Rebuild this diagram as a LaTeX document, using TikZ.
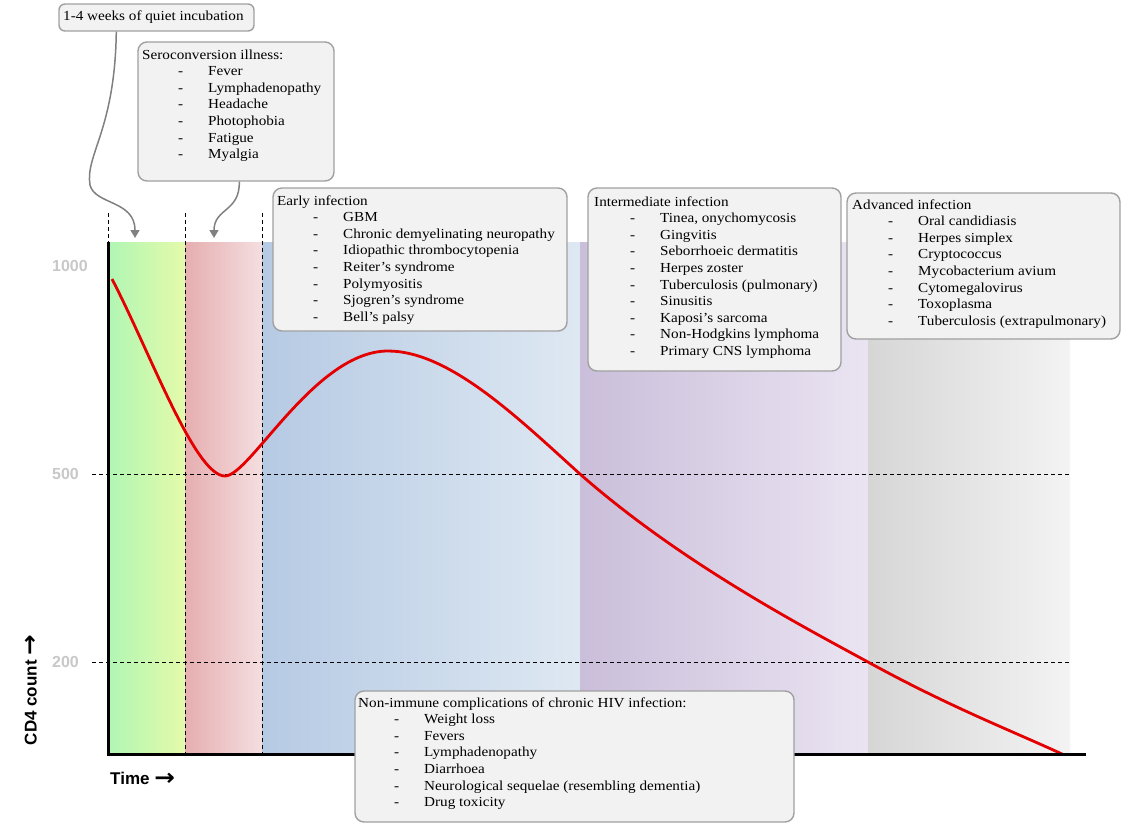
\documentclass[tikz,border=0pt]{standalone}
\usepackage{fontspec}
\setmainfont{Liberation Serif}[FakeStretch=1.1]
\newfontfamily\axisfont{Liberation Sans}
\newfontfamily\arrowfont{DejaVu Sans}
\usetikzlibrary{arrows.meta,fit,calc}
\definecolor{boxfill}{RGB}{242,242,242}
\definecolor{boxline}{RGB}{160,160,160}
\definecolor{arrgrey}{RGB}{128,128,128}
\definecolor{lblgrey}{RGB}{200,200,200}
\definecolor{gA}{RGB}{176,246,180}
\definecolor{gB}{RGB}{228,250,170}
\definecolor{pA}{RGB}{230,174,176}
\definecolor{pB}{RGB}{244,222,224}
\definecolor{bA}{RGB}{182,202,228}
\definecolor{bB}{RGB}{222,232,242}
\definecolor{vA}{RGB}{202,190,218}
\definecolor{vB}{RGB}{234,228,242}
\definecolor{kA}{RGB}{214,214,214}
\definecolor{kB}{RGB}{243,243,243}
\definecolor{hivred}{RGB}{228,0,0}
\newcommand\itm[1]{\hbox{\makebox[66pt][l]{\hspace*{36pt}-}#1}}
\newcommand\lst[2]{\vtop{\baselineskip=16.6pt\lineskiplimit=-20pt\hbox{#1}#2}}
\newcommand\rarr{\raisebox{-0.5pt}{\scalebox{1.45}[1.35]{\arrowfont\bfseries →}}}
\begin{document}
\begin{tikzpicture}[x=1pt,y=-1pt,
  box/.style={draw=boxline,fill=boxfill,line width=1.4pt,rounded corners=9pt,inner sep=0pt},
  txt/.style={anchor=base west,inner sep=0pt,font=\fontsize{13.8}{16.6}\selectfont},
  arr/.style={draw=arrgrey,line width=1.5pt,-{Triangle[width=9pt,length=8pt]}},
  guide/.style={black,line width=0.7pt,dash pattern=on 4pt off 3pt},
  hiv/.style={draw=hivred,line width=2.8pt},
  axisline/.style={black,line width=3pt},
  ylbl/.style={anchor=west,inner sep=0pt,text=lblgrey,font=\axisfont\bfseries\fontsize{16}{18}\selectfont},
  axlbl/.style={inner sep=0pt,font=\axisfont\bfseries\fontsize{17}{19}\selectfont}]
\useasboundingbox (0,0) rectangle (1125,823);
% bands
\shade[left color=gA,right color=gB] (108,242) rectangle (185,754);
\shade[left color=pA,right color=pB] (185,242) rectangle (262,754);
\shade[left color=bA,right color=bB] (262,242) rectangle (580,754);
\shade[left color=vA,right color=vB] (580,242) rectangle (868,754);
\shade[left color=kA,right color=kB] (868,242) rectangle (1070,754);
% guides
\draw[guide] (108,213) -- (108,242);
\draw[guide] (185,213) -- (185,754);
\draw[guide] (262,213) -- (262,754);
\draw[guide] (92,474) -- (1070,474);
\draw[guide] (92,662) -- (1070,662);
% labels
\node[ylbl] (l1000) at (52,266) {1000};
\node[ylbl] (l500) at (52,474) {500};
\node[ylbl] (l200) at (52,662) {200};
\node[axlbl,rotate=90] (cd4) at (31,690) {CD4 count \rarr};
\node[axlbl,anchor=west] (time) at (110,779) {Time \rarr};
% curve
\draw[hiv] (112,279) .. controls (150,352) and (195,476) .. (225,476)
  .. controls (250,476) and (315,351) .. (388,351)
  .. controls (450,351) and (520,420) .. (580,474)
  .. controls (680,562) and (800,625) .. (868,662)
  .. controls (950,707) and (1010,730) .. (1062,754);
% axes
\draw[axisline] (108,242) -- (108,755.5);
\draw[axisline] (106.5,754) -- (1086,754);
% boxes
\node[box,rounded corners=6pt,fit={(59,4) (254,31)}] (b1) {};
\node[box,fit={(138,42) (334,181)}] (b2) {};
\node[box,fit={(273,188) (567,331)}] (b3) {};
\node[box,fit={(588,188) (841,371)}] (b4) {};
\node[box,fit={(847,193) (1120,339)}] (b5) {};
\node[box,fit={(355,691) (794,822)}] (b6) {};
% texts
\node[txt] (t1) at (63,20) {1-4 weeks of quiet incubation};
\node[txt] (t2) at (142,59) {\lst{Seroconversion illness:}{\itm{Fever}\itm{Lymphadenopathy}\itm{Headache}\itm{Photophobia}\itm{Fatigue}\itm{Myalgia}}};
\node[txt] (t3) at (277,205) {\lst{Early infection}{\itm{GBM}\itm{Chronic demyelinating neuropathy}\itm{Idiopathic thrombocytopenia}\itm{Reiter’s syndrome}\itm{Polymyositis}\itm{Sjogren’s syndrome}\itm{Bell’s palsy}}};
\node[txt] (t4) at (594,206) {\lst{Intermediate infection}{\itm{Tinea, onychomycosis}\itm{Gingvitis}\itm{Seborrhoeic dermatitis}\itm{Herpes zoster}\itm{Tuberculosis (pulmonary)}\itm{Sinusitis}\itm{Kaposi’s sarcoma}\itm{Non-Hodgkins lymphoma}\itm{Primary CNS lymphoma}}};
\node[txt] (t5) at (852,209) {\lst{Advanced infection}{\itm{Oral candidiasis}\itm{Herpes simplex}\itm{Cryptococcus}\itm{Mycobacterium avium}\itm{Cytomegalovirus}\itm{Toxoplasma}\itm{Tuberculosis (extrapulmonary)}}};
\node[txt] (t6) at (358,707) {\lst{Non-immune complications of chronic HIV infection:}{\itm{Weight loss}\itm{Fevers}\itm{Lymphadenopathy}\itm{Diarrhoea}\itm{Neurological sequelae (resembling dementia)}\itm{Drug toxicity}}};
% arrows
\coordinate (a1) at (135,238);
\coordinate (a2) at (214,238);
\draw[arr] ($(b1.south west)+(58,0)$) .. controls (115,130) and (85,155) .. (90,185)
  .. controls (95,205) and (135,200) .. (a1);
\draw[arr] ($(b2.south west)+(102,0)$) .. controls (240,212) and (214,208) .. (a2);
\end{tikzpicture}
\end{document}
